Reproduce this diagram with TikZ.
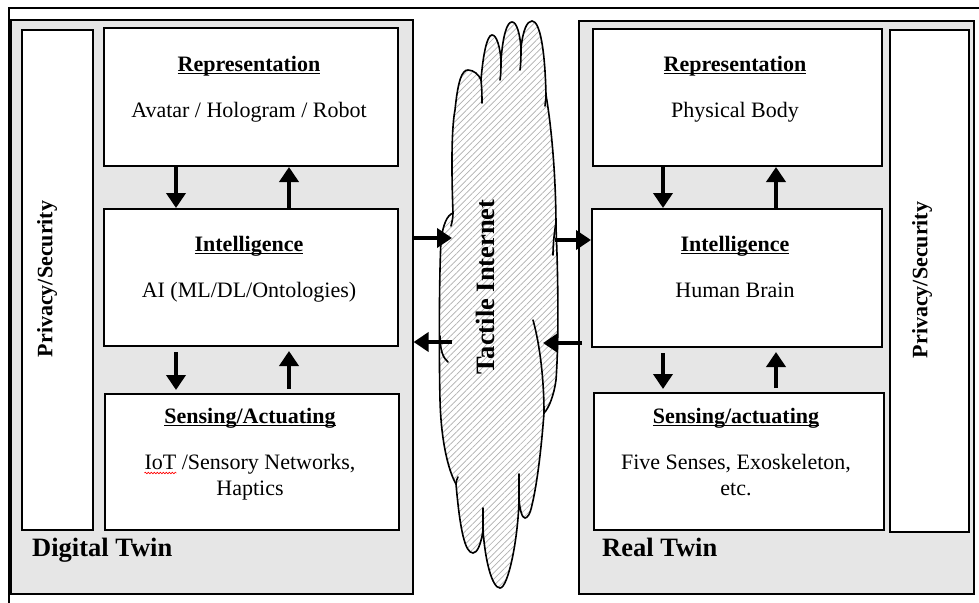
\documentclass[tikz,border=0pt]{standalone}
\usepackage{fontspec}
\setmainfont{Liberation Serif}
\usetikzlibrary{arrows.meta,patterns.meta,decorations.pathmorphing}
\definecolor{boxgray}{RGB}{230,230,230}
\definecolor{hatchgray}{RGB}{175,175,175}
\newcommand{\hul}[1]{\setbox0\hbox{#1}\rlap{\rule[-3.2pt]{\wd0}{1.6pt}}\box0}
\tikzset{
  whitebox/.style={draw, line width=2pt, fill=white, inner sep=0pt, anchor=north west},
  graybox/.style={draw, line width=1.6pt, fill=boxgray, inner sep=0pt, anchor=north west},
  hd/.style={font=\fontsize{22}{26}\selectfont\bfseries, inner sep=0pt, anchor=base},
  bd/.style={font=\fontsize{22}{26}\selectfont, inner sep=0pt, anchor=base},
  ttl/.style={font=\fontsize{26.5}{30}\selectfont\bfseries, inner sep=0pt, anchor=base west},
  vtxt/.style={rotate=90, inner sep=0pt, font=\fontsize{22}{26}\selectfont\bfseries},
  arr/.style={line width=4pt, -{Triangle[length=15pt,width=19pt]}},
  cloudline/.style={line width=1.6pt, line cap=round},
}
\begin{document}
\begin{tikzpicture}[x=1pt,y=-1pt]
\useasboundingbox (0,0) rectangle (979,602);
% outer frame
\draw[line width=1.6pt] (9,610) -- (9,8) -- (990,8);
% twin panels
\node[graybox, minimum width=402pt, minimum height=574pt] (lgray) at (10,19) {};
\node[graybox, minimum width=395pt, minimum height=573pt] (rgray) at (578,20) {};
% privacy boxes
\node[whitebox, minimum width=71pt, minimum height=500pt] (lpriv) at (21,29) {};
\node[whitebox, minimum width=79pt, minimum height=502pt] (rpriv) at (889,29) {};
\node[vtxt] (lprivT) at (47,279) {Privacy/Security};
\node[vtxt] (rprivT) at (922,280) {Privacy/Security};
% left column boxes
\node[whitebox, minimum width=294pt, minimum height=138pt] (lrep) at (103,27) {};
\node[whitebox, minimum width=294pt, minimum height=137pt] (lint) at (103,208) {};
\node[whitebox, minimum width=294pt, minimum height=136pt] (lsen) at (104,393) {};
% right column boxes
\node[whitebox, minimum width=289pt, minimum height=137pt] (rrep) at (592,28) {};
\node[whitebox, minimum width=290pt, minimum height=138pt] (rint) at (591,208) {};
\node[whitebox, minimum width=290pt, minimum height=137pt] (rsen) at (593,392) {};
% left texts
\node[hd] (lrepH) at (249,71) {\hul{Representation}};
\node[bd] (lrepB) at (249,117) {Avatar / Hologram / Robot};
\node[hd] (lintH) at (249,251) {\hul{Intelligence}};
\node[bd] (lintB) at (249,297) {AI (ML/DL/Ontologies)};
\node[hd] (lsenH) at (250,423) {\hul{Sensing/Actuating}};
\node[bd] (lsenB1) at (250,469) {IoT /Sensory Networks,};
\node[bd] (lsenB2) at (250,495) {Haptics};
\draw[red, line width=0.6pt, decorate, decoration={snake, amplitude=0.8pt, segment length=3pt}]
  (lsenB1.base west) ++(0,4) -- ++(32,0);
\node[ttl] (lT) at (32,556) {Digital Twin};
% right texts
\node[hd] (rrepH) at (735,71) {\hul{Representation}};
\node[bd] (rrepB) at (735,117) {Physical Body};
\node[hd] (rintH) at (735,251) {\hul{Intelligence}};
\node[bd] (rintB) at (735,297) {Human Brain};
\node[hd] (rsenH) at (736,423) {\hul{Sensing/actuating}};
\node[bd] (rsenB1) at (736,469) {Five Senses, Exoskeleton,};
\node[bd] (rsenB2) at (736,495) {etc.};
\node[ttl] (rT) at (602,556) {Real Twin};
% cloud
\path[fill=white, pattern={Lines[angle=45,distance=4.5pt,line width=0.7pt]}, pattern color=hatchgray]
  (453,213)
  .. controls (451,160) and (452,125) .. (455,110)
  .. controls (458,80) and (462,70) .. (468,70)
  .. controls (474,70) and (479,75) .. (481,80)
  .. controls (483,55) and (487,35) .. (492,35)
  .. controls (497,35) and (500,48) .. (501,60)
  .. controls (503,35) and (507,22) .. (512,22)
  .. controls (517,22) and (520,35) .. (521,48)
  .. controls (523,30) and (527,21) .. (532,21)
  .. controls (540,21) and (545,50) .. (546,95)
  .. controls (552,130) and (556,180) .. (556,228)
  .. controls (558,270) and (559,340) .. (556,380)
  .. controls (554,395) and (549,408) .. (544,413)
  .. controls (542,440) and (538,480) .. (532,505)
  .. controls (530,515) and (527,518) .. (525,518)
  .. controls (522,518) and (520,510) .. (519,500)
  .. controls (518,540) and (508,588) .. (500,588)
  .. controls (492,588) and (485,560) .. (483,530)
  .. controls (481,545) and (477,553) .. (473,553)
  .. controls (465,553) and (460,530) .. (456,484)
  .. controls (448,470) and (441,440) .. (440,400)
  .. controls (439,360) and (439,280) .. (441,240)
  .. controls (443,225) and (447,215) .. (453,213)
  -- cycle;
\draw[cloudline]
  (453,213)
  .. controls (451,160) and (452,125) .. (455,110)
  .. controls (458,80) and (462,70) .. (468,70)
  .. controls (474,70) and (479,75) .. (481,80)
  .. controls (483,55) and (487,35) .. (492,35)
  .. controls (497,35) and (500,48) .. (501,60)
  .. controls (503,35) and (507,22) .. (512,22)
  .. controls (517,22) and (520,35) .. (521,48)
  .. controls (523,30) and (527,21) .. (532,21)
  .. controls (540,21) and (545,50) .. (546,95)
  .. controls (552,130) and (556,180) .. (556,228)
  .. controls (558,270) and (559,340) .. (556,380)
  .. controls (554,395) and (549,408) .. (544,413)
  .. controls (542,440) and (538,480) .. (532,505)
  .. controls (530,515) and (527,518) .. (525,518)
  .. controls (522,518) and (520,510) .. (519,500)
  .. controls (518,540) and (508,588) .. (500,588)
  .. controls (492,588) and (485,560) .. (483,530)
  .. controls (481,545) and (477,553) .. (473,553)
  .. controls (465,553) and (460,530) .. (456,484)
  .. controls (448,470) and (441,440) .. (440,400)
  .. controls (439,360) and (439,280) .. (441,240)
  .. controls (443,225) and (447,215) .. (453,213);
% inner strokes of the cloud
\draw[cloudline] (481,80) .. controls (482,90) and (482,97) .. (482,103);
\draw[cloudline] (501,60) .. controls (501,68) and (501,74) .. (500,80);
\draw[cloudline] (521,48) .. controls (521,56) and (521,63) .. (520,70);
\draw[cloudline] (546,95) .. controls (546,100) and (545,103) .. (545,106);
\draw[cloudline] (453,213) .. controls (453,218) and (452,222) .. (451,226);
\draw[cloudline] (556,222) .. controls (554,235) and (553,245) .. (553,255);
\draw[cloudline] (533,320) .. controls (540,345) and (544,380) .. (544,413);
\draw[cloudline] (440,336) .. controls (440,350) and (443,358) .. (448,362);
\draw[cloudline] (519,500) .. controls (519,490) and (519,482) .. (519,474);
\draw[cloudline] (483,530) .. controls (483,520) and (483,514) .. (483,508);
\draw[cloudline] (456,484) .. controls (456,481) and (457,479) .. (458,477);
\node[font=\fontsize{26.5}{30}\selectfont\bfseries, rotate=90, inner sep=0pt] (tactile) at (485,287) {Tactile Internet};
% vertical arrows
\coordinate (ax1) at (176,0);
\coordinate (ax2) at (289,0);
\coordinate (ax3) at (663,0);
\coordinate (ax4) at (776,0);
\draw[arr] (lrep.south -| ax1) -- (lint.north -| ax1);
\draw[arr] (lint.north -| ax2) -- (lrep.south -| ax2);
\draw[arr, shorten <=5pt, shorten >=3pt] (lint.south -| ax1) -- (lsen.north -| ax1);
\draw[arr, shorten <=4pt, shorten >=4pt] (lsen.north -| ax2) -- (lint.south -| ax2);
\draw[arr] (rrep.south -| ax3) -- (rint.north -| ax3);
\draw[arr] (rint.north -| ax4) -- (rrep.south -| ax4);
\draw[arr, shorten <=5pt, shorten >=3pt] (rint.south -| ax3) -- (rsen.north -| ax3);
\draw[arr, shorten <=4pt, shorten >=4pt] (rsen.north -| ax4) -- (rint.south -| ax4);
% horizontal arrows through the cloud
\coordinate (cL1) at (452,238);
\coordinate (cL2) at (452,342);
\coordinate (cR1) at (555,240);
\coordinate (cR2) at (543,343);
\draw[arr] (lgray.east |- cL1) -- (cL1);
\draw[arr] (cL2) -- (lgray.east |- cL2);
\draw[arr] (cR1) -- (rint.west |- cR1);
\draw[arr, shorten <=9pt] (rint.west |- cR2) -- (cR2);
\end{tikzpicture}
\end{document}
